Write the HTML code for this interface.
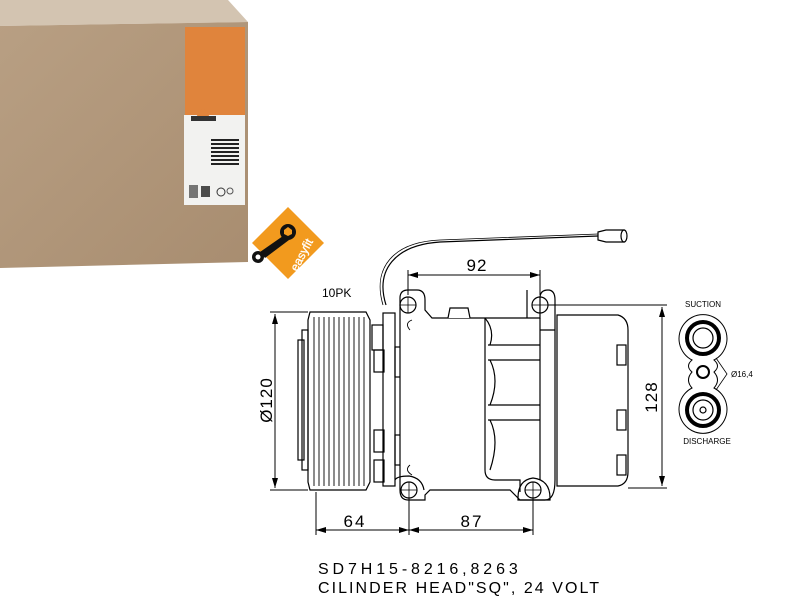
<!DOCTYPE html>
<html><head><meta charset="utf-8"><style>
html,body{margin:0;padding:0;background:#fff;}
svg{display:block;}
text{font-family:"Liberation Sans",sans-serif;}
</style></head><body>
<svg width="810" height="610" viewBox="0 0 810 610" xmlns="http://www.w3.org/2000/svg">
<defs>
<linearGradient id="box" x1="0" y1="0" x2="1" y2="1">
<stop offset="0" stop-color="#b89f83"/><stop offset="1" stop-color="#a88d70"/>
</linearGradient>
<marker id="ar" viewBox="0 0 10 6" refX="10" refY="3" markerWidth="14" markerHeight="6" markerUnits="userSpaceOnUse" orient="auto-start-reverse">
<path d="M0,0 L10,3 L0,6 z" fill="#000"/></marker>
</defs>
<!-- Box -->
<polygon points="0,0 228,0 248,22 0,26" fill="#d3c4b1"/>
<polygon points="0,26 248,22 248,262 0,268" fill="url(#box)"/>
<rect x="185" y="27" width="60" height="88" fill="#e0843c"/>
<rect x="184" y="115" width="61" height="90" fill="#f2f2f0"/>
<polygon points="203,107 196,117 210,117" fill="#e0843c"/>
<rect x="191" y="116" width="25" height="5" fill="#333"/>
<g fill="#222">
<rect x="211" y="139" width="28" height="2"/><rect x="211" y="143" width="28" height="2"/>
<rect x="211" y="147" width="28" height="2"/><rect x="211" y="151" width="28" height="2"/>
<rect x="211" y="155" width="28" height="2"/><rect x="211" y="159" width="28" height="2"/>
<rect x="211" y="163" width="28" height="2"/>
<rect x="189" y="185" width="9" height="13" opacity="0.6"/>
<rect x="201" y="186" width="9" height="11" opacity="0.8"/>
<circle cx="221" cy="192" r="4" fill="none" stroke="#333"/>
<circle cx="230" cy="191" r="3" fill="none" stroke="#555"/>
</g>
<!-- easyfit logo -->
<polygon points="288,207 324,243 288,279 252,243" fill="#f29a1e"/>
<g fill="#111">
<circle cx="288" cy="232" r="8"/>
<polygon points="283,236 260,252 265,258 289,240"/>
<circle cx="258" cy="257" r="6"/>
</g>
<circle cx="258" cy="257" r="2.5" fill="#fff"/>
<polygon points="288,227 292,230 292,234 288,236 284,234 284,230" fill="#f29a1e"/>
<text x="0" y="0" transform="translate(297,272) rotate(-62)" font-size="12" fill="#fff" stroke="#fff" stroke-width="0.3">easyfit</text>

<g fill="none" stroke="#000" stroke-width="1.2">
<!-- cable -->
<path d="M386,305 C375,270 395,245 440,242 L598,236"/>
<path d="M383,305 C372,268 393,242 440,240 L598,234" stroke-width="0.8"/>
<path d="M598,232 L606,230 L624,230 L624,242 L606,242 L598,240 z" fill="#fff"/>
<ellipse cx="624" cy="236" rx="3" ry="6" fill="#fff"/>
<!-- pulley & clutch -->
<rect x="298" y="340" width="6" height="120"/>
<rect x="302" y="330" width="6" height="140"/>
<path d="M310,312 L366,312 L370,320 L370,482 L366,490 L310,490 L308,482 L308,320 z"/>
<path d="M314,317 V486 M319,317 V486 M324,317 V486 M329,317 V486 M334,317 V486 M339,317 V486 M344,317 V486 M349,317 V486 M354,317 V486 M359,317 V486 M364,317 V486" stroke-width="0.9"/>
<!-- front housing -->
<rect x="383" y="313" width="12" height="173"/>
<rect x="372" y="325" width="11" height="25"/>
<rect x="374" y="350" width="10" height="22"/>
<rect x="374" y="430" width="10" height="22"/>
<rect x="374" y="460" width="10" height="22"/>
<rect x="395" y="347" width="13" height="30"/>
<rect x="395" y="435" width="13" height="30"/>
<!-- body -->
<path d="M400,298 Q400,290 408,290 L417,290 Q425,290 425,300 L425,310 L432,318 L540,318 L540,298 Q540,290 548,290 L548,290 Q555,290 555,300 L555,480 Q555,500 545,500 L520,500 L510,490 L430,490 L425,495 L425,500 L408,500 Q400,500 400,490 z" fill="#fff"/>
<path d="M527,290 L527,318 M540,318 V480 M540,330 L555,330"/>
<path d="M485,318 V470 Q485,480 495,480 L520,480 L520,492"/>
<path d="M488,345 L540,345 M488,360 L540,360 M488,405 L540,405 M488,420 L540,420" />
<path d="M485,318 Q495,330 490,345 M490,360 Q500,380 490,405 M490,420 Q500,440 490,470"/>
<path d="M448,318 L450,308 L468,308 L470,318" fill="#fff"/>
<path d="M412,320 Q404,323 410,330 M412,475 Q404,470 410,465" stroke-width="0.9"/>
<!-- rear head -->
<path d="M557,315 L618,315 Q628,318 628,330 L628,472 Q628,484 618,486 L557,486 z" fill="#fff"/>
<rect x="617" y="345" width="9" height="20" fill="#fff"/>
<rect x="617" y="410" width="9" height="20" fill="#fff"/>
<rect x="617" y="455" width="9" height="20" fill="#fff"/>
<!-- ears circles -->
<circle cx="408" cy="305" r="8"/><circle cx="540" cy="305" r="8"/>
<circle cx="409" cy="490" r="8"/><circle cx="533" cy="490" r="8"/>
<path d="M518,498 Q518,480 533,478 Q550,480 550,498 L550,500 L518,500 z" fill="none"/>
<path d="M395,480 Q397,476 409,476 Q422,478 424,490"/>
<!-- dimension lines -->
<g stroke-width="1">
<path d="M408,295 V270 M540,295 V270"/>
<path d="M408,275 H540" marker-start="url(#ar)" marker-end="url(#ar)"/>
<path d="M270,312 H308 M270,490 H308"/>
<path d="M275,314 V488" marker-start="url(#ar)" marker-end="url(#ar)"/>
<path d="M548,305 H667 M628,488 H667"/>
<path d="M662,307 V486" marker-start="url(#ar)" marker-end="url(#ar)"/>
<path d="M316,492 V535 M409,498 V535 M533,498 V535"/>
<path d="M316,530 H409" marker-start="url(#ar)" marker-end="url(#ar)"/>
<path d="M409,530 H533" marker-start="url(#ar)" marker-end="url(#ar)"/>
<path d="M400,305 H416 M408,297 V313 M532,305 H548 M540,297 V313 M401,490 H417 M409,482 V498 M525,490 H541 M533,482 V498" stroke-width="0.8"/>
</g>
<!-- ports -->
<path d="M692,360 Q685,366 692,372 Q685,380 692,388 A24,24 0 1 0 714,388 Q721,380 714,372 Q721,366 714,360 A24,24 0 1 0 692,360 z" stroke-width="1"/>
<circle cx="703" cy="338" r="16" stroke-width="4"/><circle cx="703" cy="338" r="10"/>
<circle cx="703" cy="410" r="16" stroke-width="4"/><circle cx="703" cy="410" r="10"/><circle cx="703" cy="410" r="3"/>
<circle cx="703" cy="372" r="6" stroke-width="2"/>
<path d="M716,358 L727,374 L716,390" stroke-width="0.8"/>
</g>
<g fill="#000">
<text x="322" y="297" font-size="12">10PK</text>
<text x="477" y="271" font-size="17" text-anchor="middle" letter-spacing="1">92</text>
<text transform="translate(272,400) rotate(-90)" font-size="17" text-anchor="middle" letter-spacing="1">Ø120</text>
<text transform="translate(657,397) rotate(-90)" font-size="17" text-anchor="middle" letter-spacing="1">128</text>
<text x="355" y="527" font-size="17" text-anchor="middle" letter-spacing="2">64</text>
<text x="472" y="527" font-size="17" text-anchor="middle" letter-spacing="2">87</text>
<text x="703" y="307" font-size="8" text-anchor="middle">SUCTION</text>
<text x="707" y="444" font-size="8" text-anchor="middle">DISCHARGE</text>
<text x="731" y="377" font-size="8">Ø16,4</text>
<text x="318" y="574" font-size="16" letter-spacing="2.2" font-family="Liberation Mono, monospace" textLength="202">SD7H15-8216,8263</text>
<text x="318" y="593" font-size="16" letter-spacing="1" font-family="Liberation Mono, monospace" textLength="282">CILINDER HEAD"SQ", 24 VOLT</text>
</g>
</svg>
</body></html>
